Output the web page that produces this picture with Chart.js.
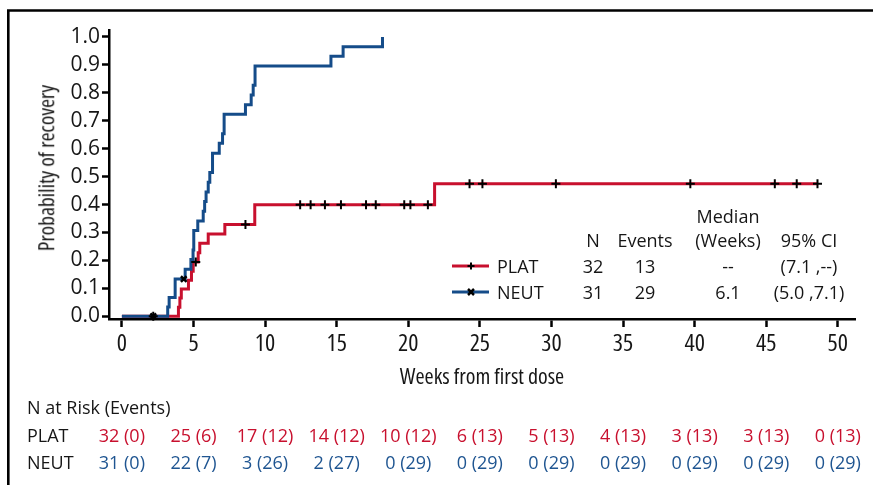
<!DOCTYPE html>
<html>
<head>
<meta charset="utf-8">
<script src="https://cdn.jsdelivr.net/npm/chart.js@4.4.1/dist/chart.umd.min.js"></script>
<style>
  html, body { margin: 0; padding: 0; background: #fff; }
  #wrap { position: relative; width: 873px; height: 485px; overflow: hidden; }
  #km { position: absolute; left: 0; top: 0; }
  .t { position: absolute; white-space: nowrap; line-height: 1; font-family: 'Open Sans', sans-serif; font-size: 18px; color: #161616; }
  .c { transform: translate(-50%, -50%); }
  .l { transform: translate(0, -50%); }
  .plat { color: #c8102e; }
  .neut { color: #1f5591; }
  #ytitle { font-family: 'Open Sans', sans-serif; font-stretch: condensed; font-size: 21.5px; transform: translate(-50%, -50%) rotate(-90deg); }
</style>
</head>
<body>
<div id="wrap"><canvas id="km" width="873" height="485"></canvas></div>
<script>
// Axis ticks
const weekTicks = [0, 5, 10, 15, 20, 25, 30, 35, 40, 45, 50];
const probTicks = [0, 0.1, 0.2, 0.3, 0.4, 0.5, 0.6, 0.7, 0.8, 0.9, 1.0];
const probTickLabels = ['0.0', '0.1', '0.2', '0.3', '0.4', '0.5', '0.6', '0.7', '0.8', '0.9', '1.0'];

// Kaplan-Meier step points (week of step, cumulative probability of recovery after the step)
const platStepWeeks = [0, 3.95, 4.05, 4.15, 4.65, 4.86, 4.98, 5.33, 5.44, 6.03, 7.19, 9.28, 21.84, 48.58];
const platStepProb  = [0, 0.032, 0.065, 0.097, 0.129, 0.161, 0.194, 0.227, 0.261, 0.294, 0.328, 0.399, 0.474, 0.474];

const neutStepWeeks = [0, 3.2, 3.3, 3.72, 4.42, 4.82, 4.97, 5.02, 5.3, 5.68, 5.78, 5.88, 6.03, 6.14, 6.33, 6.8, 7.03, 7.14, 8.63, 9.03, 9.17, 9.3, 14.6, 15.45, 18.2];
const neutStepProb  = [0, 0.033, 0.067, 0.133, 0.168, 0.203, 0.237, 0.307, 0.341, 0.376, 0.411, 0.445, 0.48, 0.515, 0.584, 0.619, 0.653, 0.723, 0.757, 0.792, 0.827, 0.896, 0.931, 0.965, 1.0];

// Censored observations
const platCensorWeeks = [2.19, 5.16, 8.63, 12.45, 13.18, 14.18, 15.3, 17.05, 17.73, 19.72, 20.15, 21.37, 24.28, 25.18, 30.31, 39.7, 45.6, 47.13, 48.58];
const platCensorProb  = [0, 0.194, 0.328, 0.399, 0.399, 0.399, 0.399, 0.399, 0.399, 0.399, 0.399, 0.399, 0.474, 0.474, 0.474, 0.474, 0.474, 0.474, 0.474];
const neutCensorWeeks = [2.19, 4.32];
const neutCensorProb  = [0, 0.133];

// Summary table
const groupNames   = ['PLAT', 'NEUT'];
const groupN       = [32, 31];
const groupEvents  = [13, 29];
const groupMedian  = ['--', '6.1'];
const groupCI      = ['(7.1 ,--)', '(5.0 ,7.1)'];

// Number at risk (events) at each week tick
const riskWeeks  = [0, 5, 10, 15, 20, 25, 30, 35, 40, 45, 50];
const platAtRisk = [32, 25, 17, 14, 10, 6, 5, 4, 3, 3, 0];
const platEvents = [0, 6, 12, 12, 12, 13, 13, 13, 13, 13, 13];
const neutAtRisk = [31, 22, 3, 2, 0, 0, 0, 0, 0, 0, 0];
const neutEvents = [0, 7, 26, 27, 29, 29, 29, 29, 29, 29, 29];

const RED = '#c8102e';
const BLUE = '#154c89';
const SANS = "'Open Sans', sans-serif";

const toXY = (xs, ys) => xs.map((x, i) => ({ x: x, y: ys[i] }));

function drawPlus(ctx, x, y, r, w) {
  ctx.lineWidth = w;
  ctx.beginPath();
  ctx.moveTo(x - r, y); ctx.lineTo(x + r, y);
  ctx.moveTo(x, y - r); ctx.lineTo(x, y + r);
  ctx.stroke();
}
function drawX(ctx, x, y, r, w) {
  ctx.lineWidth = w;
  ctx.beginPath();
  ctx.moveTo(x - r, y - r); ctx.lineTo(x + r, y + r);
  ctx.moveTo(x + r, y - r); ctx.lineTo(x - r, y + r);
  ctx.stroke();
}

const decorPlugin = {
  id: 'decor',
  afterDraw(chart) {
    const ctx = chart.ctx;
    ctx.save();
    // outer frame
    ctx.strokeStyle = '#000';
    ctx.lineWidth = 2.6;
    ctx.beginPath();
    ctx.moveTo(8.3, 490); ctx.lineTo(8.3, 10.5); ctx.lineTo(880, 10.5);
    ctx.stroke();
    // legend line samples
    ctx.lineWidth = 3;
    ctx.strokeStyle = RED;
    ctx.beginPath(); ctx.moveTo(452, 266); ctx.lineTo(489, 266); ctx.stroke();
    ctx.strokeStyle = BLUE;
    ctx.beginPath(); ctx.moveTo(452, 292); ctx.lineTo(489, 292); ctx.stroke();
    ctx.strokeStyle = '#000';
    drawPlus(ctx, 471, 266, 3.5, 2);
    drawX(ctx, 471, 292, 3, 2.5);
    ctx.restore();
  }
};

const chart = new Chart(document.getElementById('km'), {
  type: 'scatter',
  data: {
    datasets: [
      { label: 'PLAT', data: toXY(platStepWeeks, platStepProb), showLine: true, stepped: true,
        borderColor: RED, borderWidth: 3, pointRadius: 0, order: 4 },
      { label: 'NEUT', data: toXY(neutStepWeeks, neutStepProb), showLine: true, stepped: true,
        borderColor: BLUE, borderWidth: 3, pointRadius: 0, order: 3 },
      { label: 'PLAT censored', data: toXY(platCensorWeeks, platCensorProb), showLine: false,
        pointStyle: 'cross', pointRadius: 4.5, borderColor: '#000', borderWidth: 2, clip: false, order: 2 },
      { label: 'NEUT censored', data: toXY(neutCensorWeeks, neutCensorProb), showLine: false,
        pointStyle: 'crossRot', pointRadius: 4, borderColor: '#000', borderWidth: 2.5, clip: false, order: 1 }
    ]
  },
  options: {
    responsive: false,
    animation: false,
    devicePixelRatio: 1,
    layout: { padding: { left: 0, right: 18, top: 30, bottom: 86 } },
    plugins: { legend: { display: false }, tooltip: { enabled: false } },
    scales: {
      x: {
        type: 'linear', min: -0.9, max: 51.2,
        afterFit(s) { s.height = 80; },
        afterBuildTicks(s) { s.ticks = weekTicks.map(v => ({ value: v })); },
        ticks: { font: { family: SANS, size: 24, weight: 'normal condensed' }, color: '#161616', padding: 3,
                 maxRotation: 0, autoSkip: false, callback: (v) => String(v) },
        grid: { drawOnChartArea: false, drawTicks: true, tickLength: 8, tickWidth: 2.5, tickColor: '#000' },
        border: { display: true, color: '#000', width: 2.5 },
        title: { display: true, text: 'Weeks from first dose', font: { family: SANS, size: 22, weight: 'normal condensed' },
                 color: '#161616', padding: { top: 0, bottom: 8 } }
      },
      y: {
        type: 'linear', min: -0.01, max: 1.025,
        afterFit(s) { s.width = 109; },
        afterBuildTicks(s) { s.ticks = probTicks.map(v => ({ value: v })); },
        ticks: { font: { family: SANS, size: 21 }, color: '#161616', padding: 2,
                 callback: (v, i) => probTickLabels[i] },
        grid: { drawOnChartArea: false, drawTicks: true, tickLength: 7, tickWidth: 2.5, tickColor: '#000' },
        border: { display: true, color: '#000', width: 2.5 }
      }
    }
  },
  plugins: [decorPlugin]
});

// Text layers: axis title, summary table, number-at-risk table
const wrap = document.getElementById('wrap');
function addText(txt, x, y, cls) {
  const d = document.createElement('div');
  d.className = 't ' + cls;
  d.textContent = txt;
  d.style.left = x + 'px';
  d.style.top = y + 'px';
  wrap.appendChild(d);
  return d;
}

addText('Probability of recovery', 46, 168, '').id = 'ytitle';

// summary table
const colN = 593, colEv = 645, colMed = 728, colCI = 809;
addText('Median', colMed, 216, 'c');
addText('N', colN, 240, 'c');
addText('Events', colEv, 240, 'c');
addText('(Weeks)', colMed, 240, 'c');
addText('95% CI', colCI, 240, 'c');
const rowY = [266, 292];
groupNames.forEach((g, i) => {
  addText(g, 497, rowY[i], 'l');
  addText(String(groupN[i]), colN, rowY[i], 'c');
  addText(String(groupEvents[i]), colEv, rowY[i], 'c');
  addText(groupMedian[i], colMed, rowY[i], 'c');
  addText(groupCI[i], colCI, rowY[i], 'c');
});

// number at risk
const xs = chart.scales.x;
addText('N at Risk (Events)', 27, 407, 'l');
addText('PLAT', 27, 435, 'l');
addText('NEUT', 27, 462, 'l');
riskWeeks.forEach((w, i) => {
  const px = xs.getPixelForValue(w);
  addText(platAtRisk[i] + ' (' + platEvents[i] + ')', px, 435, 'c plat');
  addText(neutAtRisk[i] + ' (' + neutEvents[i] + ')', px, 462, 'c neut');
});
</script>
</body>
</html>
